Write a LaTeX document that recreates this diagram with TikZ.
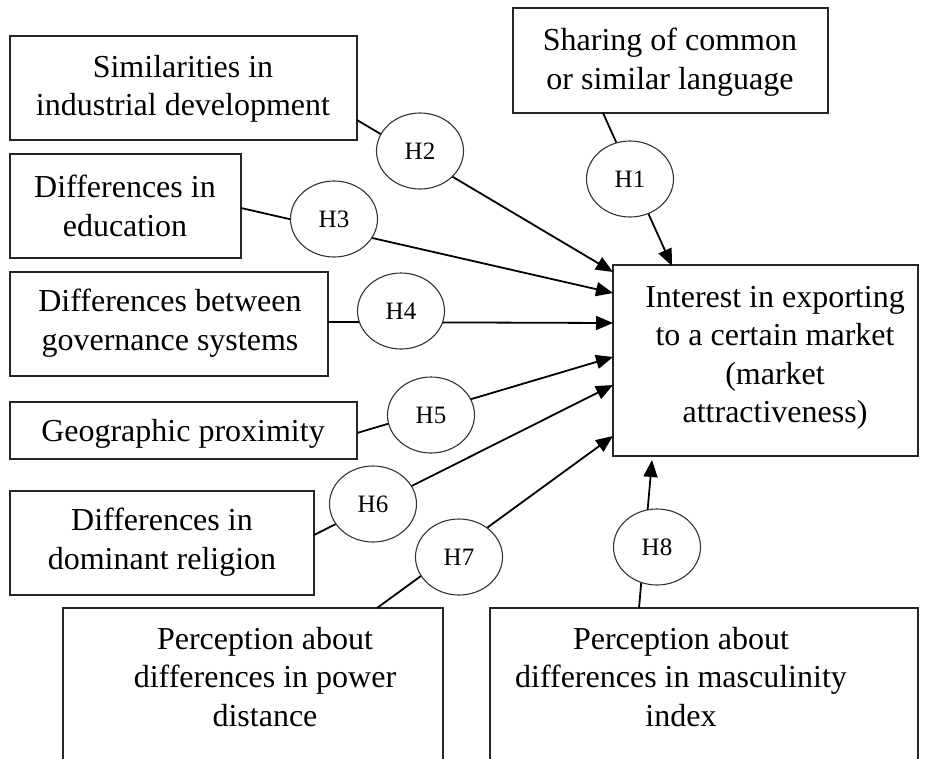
\documentclass[tikz,border=0pt]{standalone}
\usepackage{fontspec}
\setmainfont{Liberation Serif}
\usetikzlibrary{arrows.meta,shapes.geometric}
\tikzset{
  boxnode/.style={draw=black!85,line width=1.5pt,rectangle,inner sep=0pt},
  boxtext/.style={align=center,inner sep=0pt,font=\fontsize{32}{38.5}\selectfont},
  hyp/.style={draw=black!80,line width=1.1pt,ellipse,fill=white,minimum width=87pt,minimum height=76pt,inner sep=0pt,font=\fontsize{25}{28}\selectfont},
  link/.style={line width=1.8pt,black},
  arrowlink/.style={link,-{Triangle[length=17pt,width=14pt]}}
}
\begin{document}
\begin{tikzpicture}[x=1pt,y=-1pt]
\useasboundingbox (0,0) rectangle (925,758);
% boxes
\node[boxnode,minimum width=347pt,minimum height=104pt] (A) at (183.5,88) {};
\node[boxnode,minimum width=315pt,minimum height=105pt] (B) at (670.5,60.5) {};
\node[boxnode,minimum width=231pt,minimum height=104pt] (C) at (125.5,206) {};
\node[boxnode,minimum width=318pt,minimum height=104pt] (D) at (169,324) {};
\node[boxnode,minimum width=347pt,minimum height=57pt] (E) at (183.5,430.5) {};
\node[boxnode,minimum width=304pt,minimum height=104pt] (F) at (162,543) {};
\node[boxnode,minimum width=380pt,minimum height=172pt] (G) at (253,694) {};
\node[boxnode,minimum width=428pt,minimum height=172pt] (H) at (704,694) {};
\node[boxnode,minimum width=305pt,minimum height=191pt] (T) at (765.5,360.5) {};
% texts
\node[boxtext] (tA) at (183,89) {Similarities in\\industrial development};
\node[boxtext] (tB) at (670,62) {Sharing of common\\or similar language};
\node[boxtext] (tC) at (125,206) {Differences in\\education};
\node[boxtext] (tD) at (170,323) {Differences between\\governance systems};
\node[boxtext] (tE) at (183,434) {Geographic proximity};
\node[boxtext] (tF) at (162,542) {Differences in\\dominant religion};
\node[boxtext] (tG) at (265,677) {Perception about\\differences in power\\distance};
\node[boxtext] (tH) at (681,677) {Perception about\\differences in masculinity\\index};
\node[boxtext] (tT) at (775,358) {Interest in exporting\\to a certain market\\(market\\attractiveness)};
% connector ends
\coordinate (a1) at (603,113);  \coordinate (t1) at (672,266);
\coordinate (a2) at (357,120);  \coordinate (t2) at (613,272);
\coordinate (a3) at (241,208);  \coordinate (t3) at (613,293);
\coordinate (a4) at (328,322);  \coordinate (t4) at (613,323);
\coordinate (a5) at (357,433);  \coordinate (t5) at (613,357);
\coordinate (a6) at (314,535);  \coordinate (t6) at (613,385);
\coordinate (a7) at (377,608);  \coordinate (t7) at (613,436);
\coordinate (a8) at (639,608);  \coordinate (t8) at (652,460);
\foreach \i in {1,...,8} {\draw[arrowlink] (a\i) -- (t\i);}
% hypotheses
\node[hyp] (e1) at (630,179) {H1};
\node[hyp] (e2) at (420,151) {H2};
\node[hyp] (e3) at (334,219) {H3};
\node[hyp] (e4) at (401,311) {H4};
\node[hyp] (e5) at (431,415) {H5};
\node[hyp] (e6) at (373,504) {H6};
\node[hyp] (e7) at (459,557) {H7};
\node[hyp] (e8) at (657,547) {H8};
\end{tikzpicture}
\end{document}
